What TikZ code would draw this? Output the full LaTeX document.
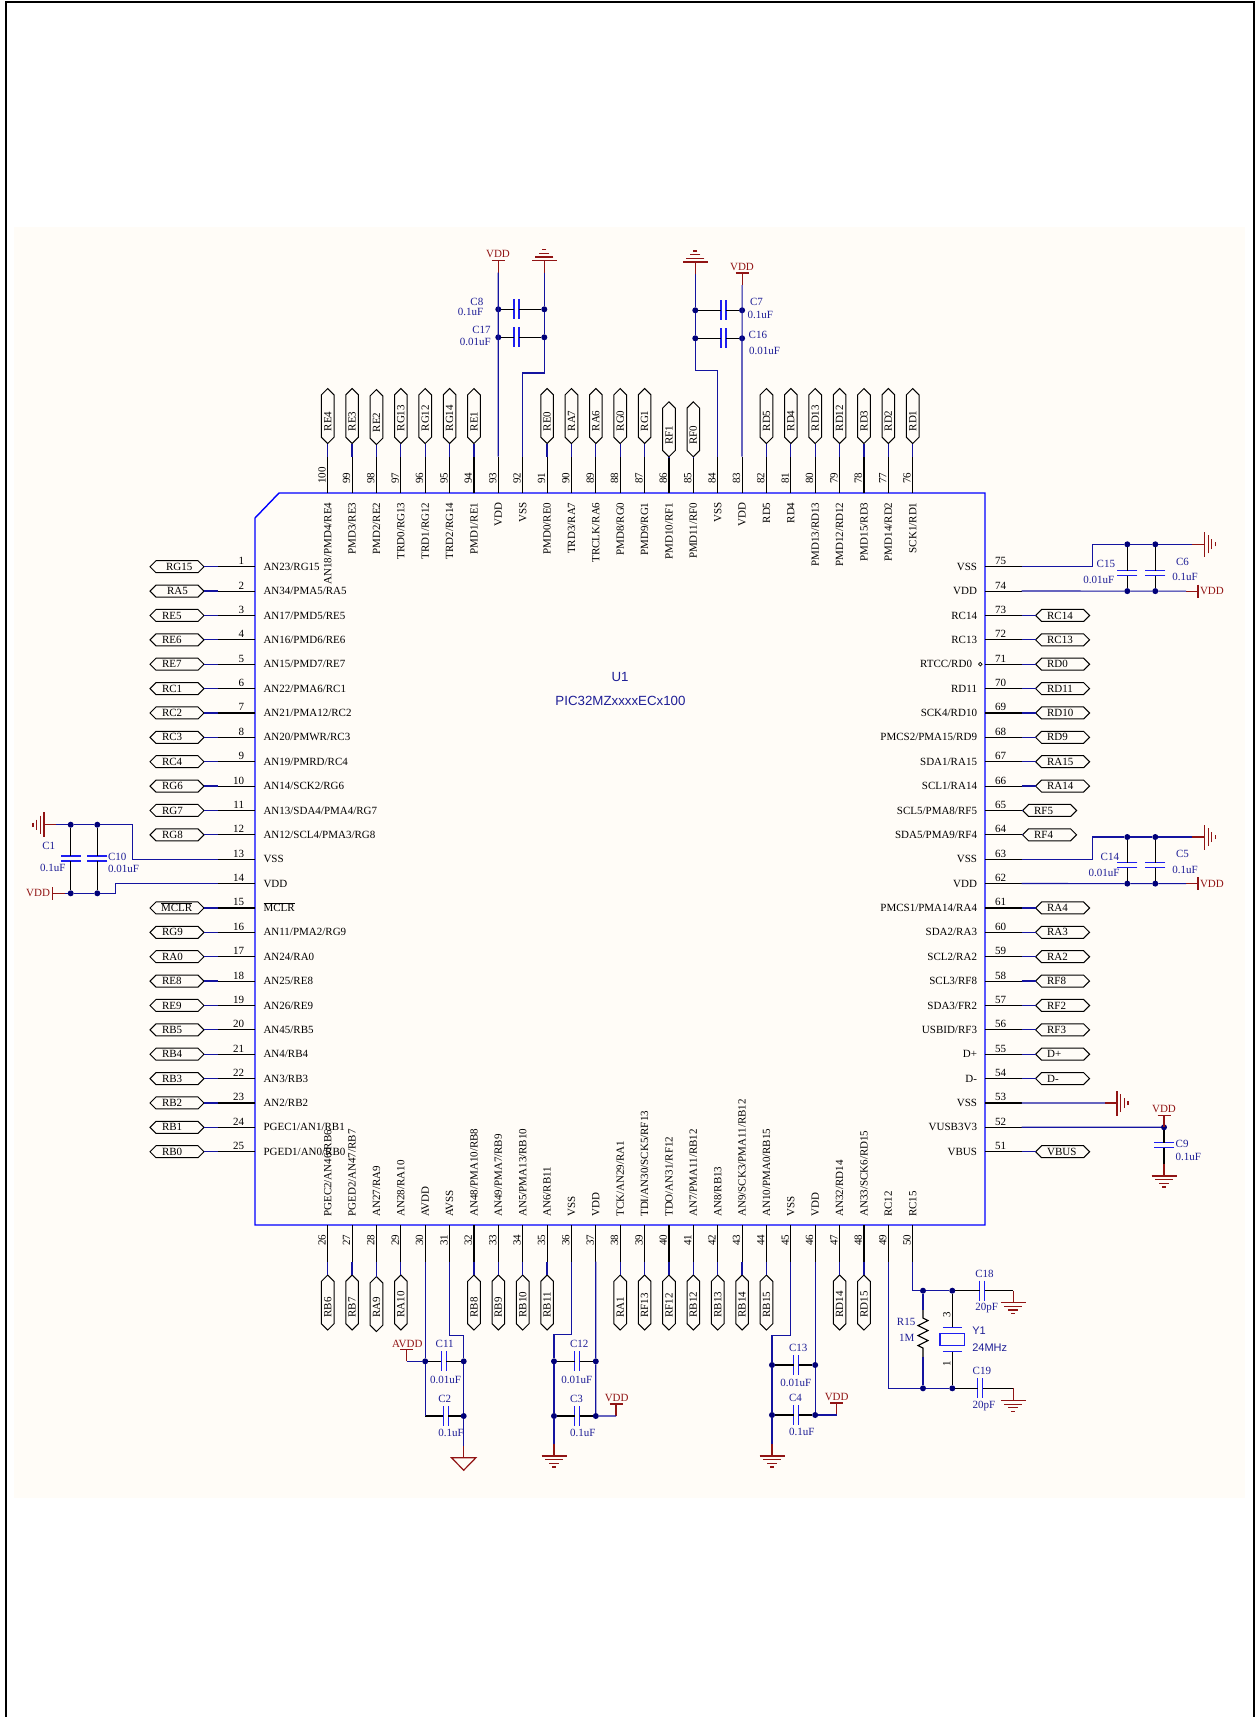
\documentclass[tikz,border=0pt]{standalone}
\usepackage{fontspec}
\setmainfont{Liberation Serif}
\newfontfamily\partfont{Liberation Sans}
\usetikzlibrary{shapes.symbols}
\definecolor{paper}{RGB}{255,252,247}
\definecolor{wirecol}{RGB}{20,20,160}
\definecolor{dotcol}{RGB}{0,0,120}
\definecolor{platecol}{RGB}{30,30,240}
\definecolor{labelcol}{RGB}{30,30,150}
\definecolor{powercol}{RGB}{145,20,20}

\begin{document}
\begin{tikzpicture}[
        x=1pt,y=-1pt,
        every node/.style={font=\fontsize{11}{12}\selectfont,inner sep=0pt,outer sep=0pt},
        chip_line/.style={blue,line width=1.4pt},
        pin_line/.style={black,line width=1.1pt},
        wire_line/.style={wirecol,line width=1.2pt},
        lead_line/.style={black,line width=1.1pt},
        cap_line/.style={platecol,line width=1.4pt},
        power_line/.style={powercol,line width=1.2pt},
        pin_num/.style={anchor=base west},
        pin_name/.style={text height=7.2pt,text depth=0pt},
        net_text/.style={text height=7.2pt,text depth=0pt},
        cap_label/.style={text=labelcol,text height=7.2pt,text depth=0pt},
        power_label/.style={text=powercol,text height=7.2pt,text depth=0pt},
        flag_h/.style={shape=signal,signal to=east and west,draw=black,line width=1pt,fill=paper,minimum width=54pt,minimum height=12pt},
        flag_v/.style={shape=signal,signal to=north and south,draw=black,line width=1pt,fill=paper,minimum width=12.6pt,minimum height=42.4pt},
        junction_dot/.style={circle,fill=dotcol,minimum size=6pt},
        inv_dot/.style={circle,draw=black,line width=0.7pt,minimum size=3.6pt},
        pics/cap_sym/.style={code={
            \coordinate (-a) at (-2.5,0);
            \coordinate (-b) at (2.5,0);
            \draw[cap_line] (-2.5,-10) -- (-2.5,10);
            \draw[cap_line] (2.5,-10) -- (2.5,10);
        }},
        pics/gnd_sym/.style={code={
            \draw[power_line] (0,0) -- (0,12);
            \draw[power_line] (-12.5,12) -- (12.5,12);
            \draw[power_line] (-9,15.8) -- (9,15.8);
            \draw[power_line] (-5,19.3) -- (5,19.3);
            \draw[power_line] (-2,23) -- (2,23);
        }},
        pics/vdd_sym/.style={code={
            \draw[power_line] (0,0) -- (0,-12);
            \draw[power_line] (-6.5,-12) -- (6.5,-12);
        }},
        pics/agnd_sym/.style={code={
            \draw[power_line] (0,0) -- (0,12);
            \draw[power_line] (-12.2,12) -- (12.2,12) -- (0,24.5) -- cycle;
        }}
    ]
    \useasboundingbox (0,0) rectangle (1257,1717);

    % Sheet
    \fill[paper] (14,227) rectangle (1245,1498);
    \draw[black,line width=2.3pt] (6,1717) -- (6,2) -- (1254,2) -- (1254,1717);

    % Part outline and part text
    \draw[chip_line] (279,493) -- (985,493) -- (985,1225) -- (255,1225) -- (255,518) -- cycle;
    \node[text=labelcol,font=\fontsize{13.3}{14}\selectfont\partfont] (u1) at (620,676.7) {U1};
    \node[text=labelcol,font=\fontsize{13.3}{14}\selectfont\partfont] (u1val) at (620.5,700.7) {PIC32MZxxxxECx100};

    % Left pins 1 to 25
    \foreach \pin [count=\n from 1] in {AN23/RG15,AN34/PMA5/RA5,AN17/PMD5/RE5,AN16/PMD6/RE6,AN15/PMD7/RE7,AN22/PMA6/RC1,AN21/PMA12/RC2,AN20/PMWR/RC3,AN19/PMRD/RC4,AN14/SCK2/RG6,AN13/SDA4/PMA4/RG7,AN12/SCL4/PMA3/RG8,VSS,VDD,$\overline{\mbox{MCLR}}$,AN11/PMA2/RG9,AN24/RA0,AN25/RE8,AN26/RE9,AN45/RB5,AN4/RB4,AN3/RB3,AN2/RB2,PGEC1/AN1/RB1,PGED1/AN0/RB0}
    {
        \pgfmathsetmacro{\py}{566.7+(\n-1)*24.375}
        \coordinate (c\n) at (255,\py);
        \coordinate (p\n) at (218,\py);
        \draw[pin_line] (c\n) -- (p\n);
        \node[anchor=base east] (n\n) at (244,\py-2) {\n};
        \node[pin_name,anchor=west] (t\n) at (263.5,\py) {\pin};
    }

    % Bottom pins 26 to 50
    \foreach \pin [count=\n from 26] in {PGEC2/AN46/RB6,PGED2/AN47/RB7,AN27/RA9,AN28/RA10,AVDD,AVSS,AN48/PMA10/RB8,AN49/PMA7/RB9,AN5/PMA13/RB10,AN6/RB11,VSS,VDD,TCK/AN29/RA1,TDI/AN30/SCK5/RF13,TDO/AN31/RF12,AN7/PMA11/RB12,AN8/RB13,AN9/SCK3/PMA11/RB12,AN10/PMA0/RB15,VSS,VDD,AN32/RD14,AN33/SCK6/RD15,RC12,RC15}
    {
        \pgfmathsetmacro{\px}{327.7+(\n-26)*24.375}
        \coordinate (c\n) at (\px,1225);
        \coordinate (p\n) at (\px,1261.7);
        \draw[pin_line] (c\n) -- (p\n);
        \node[pin_num,rotate=90] (n\n) at (\px-2,1245.7) {\n};
        \node[pin_name,rotate=90,anchor=west] (t\n) at (\px,1216.7) {\pin};
    }

    % Right pins 51 to 75
    \foreach \pin [count=\n from 51] in {VBUS,VUSB3V3,VSS,D-,D+,USBID/RF3,SDA3/FR2,SCL3/RF8,SCL2/RA2,SDA2/RA3,PMCS1/PMA14/RA4,VDD,VSS,SDA5/PMA9/RF4,SCL5/PMA8/RF5,SCL1/RA14,SDA1/RA15,PMCS2/PMA15/RD9,SCK4/RD10,RD11,RTCC/RD0,RC13,RC14,VDD,VSS}
    {
        \pgfmathsetmacro{\py}{1151.7-(\n-51)*24.375}
        \coordinate (c\n) at (985,\py);
        \coordinate (p\n) at (1021.5,\py);
        \draw[pin_line] (c\n) -- (p\n);
        \node[anchor=base] (n\n) at (1000.5,\py-2) {\n};
        \ifnum\n=71
            \node[pin_name,anchor=east] (t\n) at (972,\py) {\pin};
        \else
            \node[pin_name,anchor=east] (t\n) at (977,\py) {\pin};
        \fi
    }
    \node[inv_dot] (inv71) at (980.3,664.2) {};

    % Top pins 76 to 100
    \foreach \pin [count=\n from 76] in {SCK1/RD1,PMD14/RD2,PMD15/RD3,PMD12/RD12,PMD13/RD13,RD4,RD5,VDD,VSS,PMD11/RF0,PMD10/RF1,PMD9/RG1,PMD8/RG0,TRCLK/RA6,TRD3/RA7,PMD0/RE0,VSS,VDD,PMD1/RE1,TRD2/RG14,TRD1/RG12,TRD0/RG13,PMD2/RE2,PMD3/RE3,AN18/PMD4/RE4}
    {
        \pgfmathsetmacro{\px}{912.7-(\n-76)*24.375}
        \coordinate (c\n) at (\px,493);
        \coordinate (p\n) at (\px,456.7);
        \draw[pin_line] (c\n) -- (p\n);
        \node[pin_num,rotate=90] (n\n) at (\px-2,483.5) {\n};
        \node[pin_name,rotate=90,anchor=east] (t\n) at (\px,502.5) {\pin};
    }

    % Net flags, left
    \foreach \n/\net/\tx in {1/RG15/166,2/RA5/167,3/RE5/162,4/RE6/162,5/RE7/162,6/RC1/162,7/RC2/162,8/RC3/162,9/RC4/162,10/RG6/162,11/RG7/162,12/RG8/162,15/$\overline{\mbox{MCLR}}$/161,16/RG9/162,17/RA0/162,18/RE8/162,19/RE9/162,20/RB5/162,21/RB4/162,22/RB3/162,23/RB2/162,24/RB1/162,25/RB0/162}
    {
        \node[flag_h] (f\n) at (177,0 |- p\n) {};
        \node[net_text,anchor=west] (l\n) at (\tx,0 |- p\n) {\net};
        \draw[wire_line] (p\n) -- (f\n.east);
    }

    % Net flags, right
    \foreach \n/\net/\fx in {73/RC14/1062.6,72/RC13/1062.6,71/RD0/1062.6,70/RD11/1062.6,69/RD10/1062.6,68/RD9/1062.6,67/RA15/1062.6,66/RA14/1062.6,65/RF5/1049.6,64/RF4/1049.6,61/RA4/1062.6,60/RA3/1062.6,59/RA2/1062.6,58/RF8/1062.6,57/RF2/1062.6,56/RF3/1062.6,55/D+/1062.6,54/D-/1062.6,51/VBUS/1062.6}
    {
        \node[flag_h] (f\n) at (\fx,0 |- p\n) {};
        \node[net_text,anchor=west] (l\n) at (\fx-15.5,0 |- p\n) {\net};
        \draw[wire_line] (p\n) -- (f\n.west);
    }

    % Net flags, top
    \foreach \n/\net/\fy in {100/RE4/416,99/RE3/416,98/RE2/417,97/RG13/416,96/RG12/416,95/RG14/416,94/RE1/416,91/RE0/416,90/RA7/416,89/RA6/416,88/RG0/416,87/RG1/416,86/RF1/429.3,85/RF0/429.3,82/RD5/416,81/RD4/416,80/RD13/416,79/RD12/416,78/RD3/416,77/RD2/416,76/RD1/416}
    {
        \node[flag_v] (f\n) at (p\n |- 0,\fy) {};
        \node[net_text,rotate=90,anchor=west] (l\n) at (p\n |- 0,\fy+15.3) {\net};
        \draw[wire_line] (p\n) -- (f\n.south);
    }

    % Net flags, bottom
    \foreach \n/\net/\fy in {26/RB6/1302.5,27/RB7/1302.5,28/RA9/1304,29/RA10/1302.5,32/RB8/1302.5,33/RB9/1302.5,34/RB10/1302.5,35/RB11/1302.5,38/RA1/1302.5,39/RF13/1302.5,40/RF12/1302.5,41/RB12/1302.5,42/RB13/1302.5,43/RB14/1302.5,44/RB15/1302.5,47/RD14/1302.5,48/RD15/1302.5}
    {
        \node[flag_v] (f\n) at (p\n |- 0,\fy) {};
        \node[net_text,rotate=90,anchor=west] (l\n) at (p\n |- 0,1317.5) {\net};
        \draw[wire_line] (p\n) -- (f\n.north);
    }

    % Junctions
    \foreach \name/\x/\y in {c8a/498.3/309.3,c8b/544.3/309.3,c17a/498.3/337.3,c17b/544.3/337.3,c7a/695.3/310.3,c7b/742.1/310.3,c16a/695.3/338.3,c16b/742.1/338.3,c1a/70.7/824.7,c10a/97.3/824.7,c1b/70.7/893.3,c10b/97.3/893.3,c15a/1127.3/544.3,c6a/1155.3/544.3,c15b/1127.3/591.1,c6b/1155.3/591.1,c14a/1127.3/837,c5a/1155.3/837,c14b/1127.3/883.6,c5b/1155.3/883.6,c11a/425.2/1361.3,c11b/463.7/1361.3,c2b/463.7/1416,c12a/554/1361.3,c12b/595.8/1361.3,c3a/554/1416,c3b/595.8/1416,c13a/772/1365,c13b/815.2/1365,c4a/772/1415,c4b/815.2/1415,r15a/923/1290.7,c18a/952.3/1290.7,r15b/923/1388.3,c19a/952.3/1388.3,c9a/1164/1127.3}
        \node[junction_dot] (j_\name) at (\x,\y) {};
    \coordinate (j_c2a) at (425.2,1416);
    \coordinate (j_c18b) at (1013.3,1290.7);
    \coordinate (j_c19b) at (1013.3,1388.3);
    \coordinate (j_c9b) at (1164,1164);

    % Capacitors, plates across a horizontal wire
    \foreach \name/\x/\y in {c8/516.5/309.3,c17/516.5/337.3,c7/723.3/310.3,c16/723.3/338.3,c11/443.7/1361.3,c2/445.8/1416,c12/577/1361.3,c3/577/1416,c13/796/1365,c4/796/1415,c18/982.2/1290.7,c19/980/1388.3}
    {
        \pic (\name) at (\x,\y) {cap_sym};
        \draw[lead_line] (j_\name a) -- (\name-a);
        \draw[lead_line] (\name-b) -- (j_\name b);
    }

    % Capacitors, plates across a vertical wire
    \foreach \name/\x/\y in {c1/70.7/858.3,c10/97.3/858.3,c15/1127.3/573.2,c6/1155.3/573.2,c14/1127.3/865,c5/1155.3/865,c9/1164/1145.2}
    {
        \pic[rotate=-90] (\name) at (\x,\y) {cap_sym};
        \draw[lead_line] (j_\name a) -- (\name-a);
        \draw[lead_line] (\name-b) -- (j_\name b);
    }

    % Power symbols
    \foreach \name/\x/\y/\r in {vdd_a/498.3/272.7/0,vdd_b/742.1/285/0,vdd_c/64.7/893.3/90,vdd_d/1186/591.1/-90,vdd_e/1186/883.6/-90,vdd_f/616/1416/0,vdd_g/836.7/1415/0,vdd_h/1164/1127.3/0,avdd_a/406.7/1361.3/0}
    {
        \coordinate (\name) at (\x,\y);
        \pic[rotate=\r] at (\name) {vdd_sym};
    }
    \foreach \name/\x/\y/\r in {gnd_a/544.3/272.7/180,gnd_b/695.3/274/180,gnd_c/56/824.7/-90,gnd_d/1192.3/544.3/90,gnd_e/1192.3/837/90,gnd_f/1105/1103/90,gnd_g/554/1444/0,gnd_h/772/1444/0,gnd_i/1164/1164/0,gnd_j/1013.3/1290.7/0,gnd_k/1013.3/1388.3/0}
    {
        \coordinate (\name) at (\x,\y);
        \pic[rotate=\r] at (\name) {gnd_sym};
    }
    \coordinate (agnd_a) at (463.7,1445.7);
    \pic at (agnd_a) {agnd_sym};

    % Power net names
    \foreach \txt/\x/\y [count=\i] in {VDD/498/254,VDD/742/267.3,VDD/1164/1109.3,VDD/616.7/1398.3,VDD/836.7/1397.3,AVDD/407.3/1343.7}
        \node[power_label] (pw\i) at (\x,\y) {\txt};
    \node[power_label,anchor=east] (pw7) at (50,893.3) {VDD};
    \node[power_label,anchor=west] (pw8) at (1200,591.1) {VDD};
    \node[power_label,anchor=west] (pw9) at (1200,883.6) {VDD};

    % Wires, top
    \coordinate (b92) at (544.3,373);
    \coordinate (b84) at (695.3,370.3);
    \draw[wire_line] (vdd_a) -- (p93);
    \draw[wire_line] (gnd_a) -- (j_c8b) -- (j_c17b) -- (b92) -| (p92);
    \draw[wire_line] (vdd_b) -- (p83);
    \draw[wire_line] (gnd_b) -- (j_c7a) -- (j_c16a) -- (b84) -| (p84);

    % Wires, left
    \coordinate (b13) at (132.7,824.7);
    \coordinate (b14) at (115.7,893.3);
    \draw[wire_line] (gnd_c) -- (j_c1a) -- (j_c10a) -- (b13) |- (p13);
    \draw[wire_line] (vdd_c) -- (j_c1b) -- (j_c10b) -- (b14) |- (p14);

    % Wires, right
    \coordinate (b75) at (1092.3,544.3);
    \coordinate (b63) at (1092.3,837);
    \draw[wire_line] (p75) -| (b75) -- (j_c15a) -- (j_c6a) -- (gnd_d);
    \draw[wire_line] (p74) -- (j_c15b) -- (j_c6b) -- (vdd_d);
    \draw[wire_line] (p63) -| (b63) -- (j_c14a) -- (j_c5a) -- (gnd_e);
    \draw[wire_line] (p62) -- (j_c14b) -- (j_c5b) -- (vdd_e);
    \draw[wire_line] (p53) -- (gnd_f);
    \draw[wire_line] (p52) -- (j_c9a);
    \draw[power_line] (j_c9b) -- (gnd_i);

    % Wires, bottom
    \coordinate (b31) at (463.7,1335.7);
    \coordinate (b36) at (554,1334.3);
    \coordinate (b45) at (772,1335.7);
    \draw[wire_line] (p30) -- (j_c11a) -- (j_c2a);
    \draw[wire_line] (p31) |- (b31) -- (j_c11b) -- (j_c2b) -- (agnd_a);
    \draw[wire_line] (avdd_a) -- (j_c11a);
    \draw[wire_line] (p36) |- (b36) -- (j_c12a) -- (j_c3a) -- (gnd_g);
    \draw[wire_line] (p37) -- (j_c12b) -- (j_c3b) -- (vdd_f);
    \draw[wire_line] (p45) |- (b45) -- (j_c13a) -- (j_c4a) -- (gnd_h);
    \draw[wire_line] (p46) -- (j_c13b) -- (j_c4b) -- (vdd_g);

    % Crystal and its resistor
    \draw[wire_line] (p50) |- (j_r15a) -- (j_c18a);
    \draw[wire_line] (p49) |- (j_r15b) -- (j_c19a);
    \coordinate (r15_top) at (923,1310);
    \coordinate (r15_bot) at (923,1357);
    \draw[wire_line] (j_r15a) -- (r15_top);
    \draw[wire_line] (r15_bot) -- (j_r15b);
    \draw[lead_line] (r15_top) -- ++(0,8) -- ++(5,2.5) -- ++(-10,5) -- ++(10,5) -- ++(-10,5) -- ++(10,5) -- ++(-10,5) -- ++(5,2.5) -- (r15_bot);
    \coordinate (y1_top) at (952.3,1327.3);
    \coordinate (y1_bot) at (952.3,1351.7);
    \draw[lead_line] (j_c18a) -- (y1_top);
    \draw[lead_line] (y1_bot) -- (j_c19a);
    \draw[cap_line] ([xshift=-9.5]y1_top) -- ([xshift=9.5]y1_top);
    \draw[cap_line] ([xshift=-9.5]y1_bot) -- ([xshift=9.5]y1_bot);
    \draw[cap_line] (940,1333.3) rectangle (964.7,1345.7);
    \node[rotate=90] (y1_pin3) at (946.7,1315) {3};
    \node[rotate=90] (y1_pin1) at (946.7,1363.3) {1};

    % Component labels
    \foreach \txt/\x/\y [count=\i] in {C8/483.3/302,0.1uF/483.3/312.3,C17/490.7/330.3,0.01uF/490.7/342.3,R15/915.3/1322.3,1M/914.3/1338.3}
        \node[cap_label,anchor=east] (le\i) at (\x,\y) {\txt};
    \foreach \txt/\x/\y [count=\i] in {C7/750/302.3,0.1uF/747.7/315.3,C16/748.7/335.3,0.01uF/749/351.3,C1/42.3/846,0.1uF/40/868.3,C10/108/857,0.01uF/108/869,C15/1096.7/564.3,0.01uF/1083.3/580,C6/1176/562.3,0.1uF/1172.3/577.3,C14/1100.7/857.3,0.01uF/1088.7/873.3,C5/1176/854.3,0.1uF/1172.3/870,C11/435.7/1344.3,0.01uF/430/1380,C2/438.3/1399.3,0.1uF/438.3/1433.3,C12/570/1344.3,0.01uF/561.3/1380,C3/570/1399.3,0.1uF/570/1433.3,C13/789/1348.3,0.01uF/780.3/1383,C4/789/1398.3,0.1uF/789/1432.3,C18/975.3/1274.3,20pF/975.3/1307,C19/972.7/1371.3,20pF/972.7/1405,C9/1175.7/1144.3,0.1uF/1175.7/1157.3}
        \node[cap_label,anchor=west] (lw\i) at (\x,\y) {\txt};
    \node[cap_label,anchor=west,font=\fontsize{11}{12}\selectfont\partfont] (y1_ref) at (972.3,1331.3) {Y1};
    \node[cap_label,anchor=west,font=\fontsize{11}{12}\selectfont\partfont] (y1_val) at (972.3,1348) {24MHz};

\end{tikzpicture}
\end{document}
